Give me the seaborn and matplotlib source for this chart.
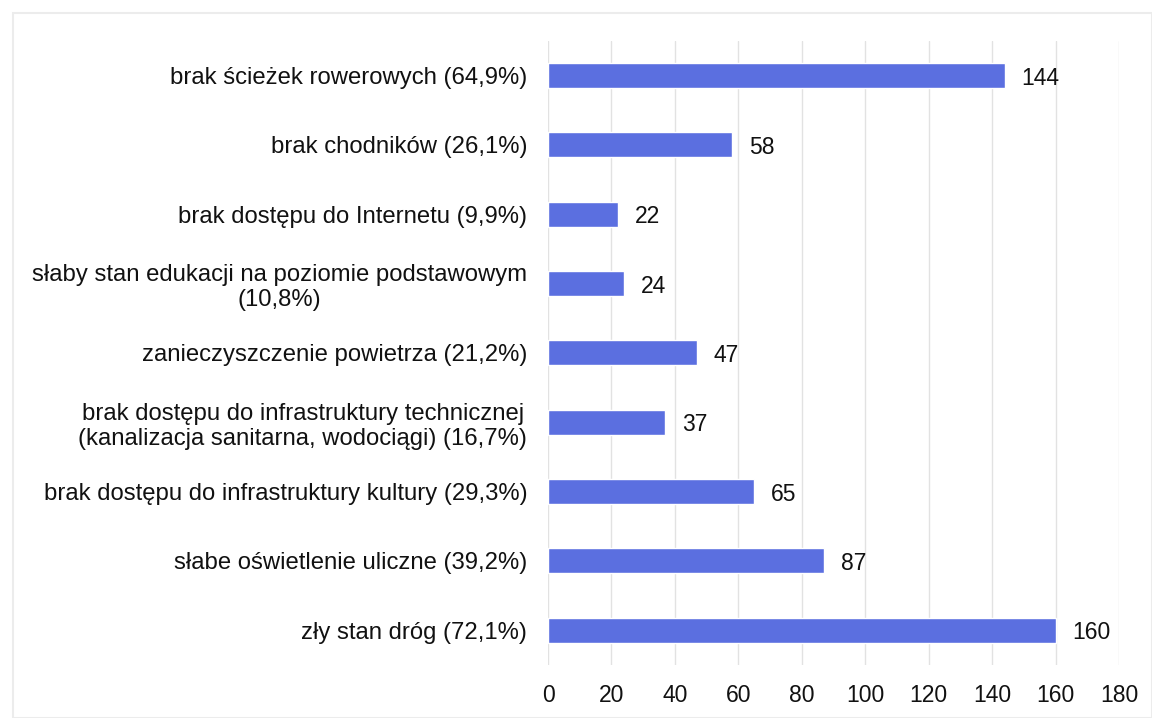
import matplotlib
matplotlib.use("Agg")
import matplotlib.pyplot as plt
import seaborn as sns
import pandas as pd

categories = [
    "brak ścieżek rowerowych (64,9%)",
    "brak chodników (26,1%)",
    "brak dostępu do Internetu (9,9%)",
    "słaby stan edukacji na poziomie podstawowym\n(10,8%)",
    "zanieczyszczenie powietrza (21,2%)",
    "brak dostępu do infrastruktury technicznej\n(kanalizacja sanitarna, wodociągi) (16,7%)",
    "brak dostępu do infrastruktury kultury (29,3%)",
    "słabe oświetlenie uliczne (39,2%)",
    "zły stan dróg (72,1%)",
]
values = [144, 58, 22, 24, 47, 37, 65, 87, 160]
xticks = [0, 20, 40, 60, 80, 100, 120, 140, 160, 180]

sns.set_theme(style="white")
plt.rcParams["font.family"] = ["Liberation Sans", "DejaVu Sans"]

df = pd.DataFrame({"cat": categories, "val": values})

fig = plt.figure(figsize=(11.52, 7.18), dpi=100)
ax = fig.add_axes([0.4757, 0.074, 0.4957, 0.869])
sns.barplot(data=df, x="val", y="cat", orient="h", color="#5b6fe0",
            saturation=1, width=0.36, ax=ax, zorder=3)

ax.set_xlim(0, 180)
ax.set_ylim(len(categories) - 0.5, -0.5)
ax.set_xticks(xticks)
ax.set_xticklabels([str(t) for t in xticks], fontsize=16.5, color="#111111")
ax.tick_params(axis="y", labelsize=17.2, pad=15, length=0, labelcolor="#111111")
ax.tick_params(axis="x", pad=14, length=0)
for lbl in ax.get_yticklabels():
    lbl.set_horizontalalignment("right")
    lbl.set_multialignment("center")
ax.set_xlabel("")
ax.set_ylabel("")
ax.grid(axis="x", color="#e2e2e2", linewidth=1, zorder=0)
for s in ax.spines.values():
    s.set_visible(False)

for i, v in enumerate(values):
    ax.text(v + 5.3, i, str(v), va="center_baseline", ha="left", fontsize=16.5, color="#111111")

fig.patches.append(plt.Rectangle((0.011, 0.0), 0.989, 0.982, transform=fig.transFigure,
                                 fill=False, edgecolor="#ececec", linewidth=1.5))
fig.savefig("out.png", dpi=100, facecolor="white")
